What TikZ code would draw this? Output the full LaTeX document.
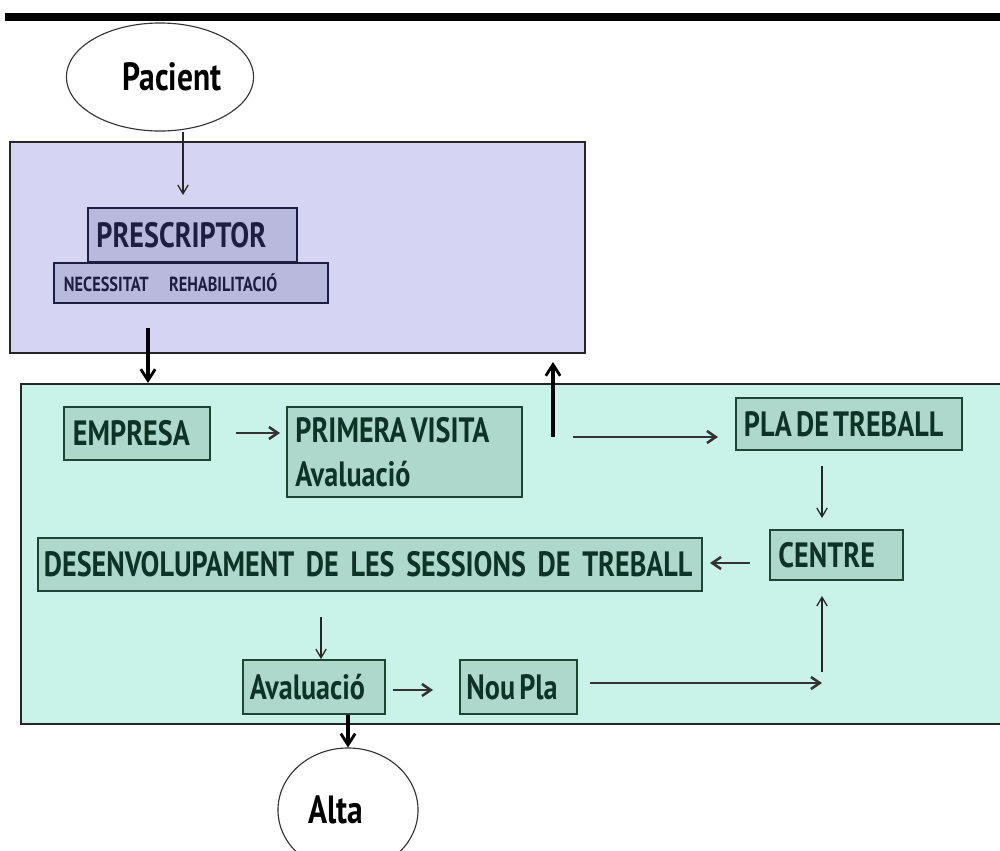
\documentclass[tikz,border=0pt]{standalone}
\usepackage{fontspec}
\setmainfont{PT Sans}[FakeStretch=0.8]
\usetikzlibrary{arrows.meta,shapes.geometric}
\definecolor{lavbg}{HTML}{D5D5F3}
\definecolor{lavbox}{HTML}{B9B9DD}
\definecolor{lavline}{HTML}{1E1E42}
\definecolor{grnbg}{HTML}{C9F3E9}
\definecolor{grnbox}{HTML}{AFD8CC}
\definecolor{grnline}{HTML}{1C4536}
\definecolor{grntext}{HTML}{0D3326}
\newcommand{\tsp}{\hspace{0.12em}}
\tikzset{
  px/.style={x=0.025cm,y=-0.025cm},
  oval/.style={ellipse,draw=black!80,line width=0.8pt,fill=white,font=\fontsize{28}{30}\selectfont\bfseries},
  panel/.style={draw=black!85,line width=1.4pt,inner sep=0pt},
  pbox/.style={draw=lavline,line width=1.4pt,fill=lavbox,text=lavline,align=left,inner sep=0pt,font=\fontsize{25}{28}\selectfont\bfseries},
  gbox/.style={draw=grnline,line width=1.4pt,fill=grnbox,text=grntext,align=left,inner sep=0pt,font=\fontsize{25}{28}\selectfont\bfseries},
  thin/.style={draw=black!85,line width=0.9pt,-{Straight Barb[length=2.2mm,width=2.6mm]}},
  mid/.style={draw=black!80,line width=1.8pt,-{Straight Barb[length=2.2mm,width=3mm]}},
  thick/.style={draw=black,line width=2.4pt,-{Straight Barb[length=2.8mm,width=3.6mm,line width=2pt]}}
}
\begin{document}
\begin{tikzpicture}[px]
\useasboundingbox (0,0) rectangle (1000,850);
% top bar
\fill[black] (5,13) rectangle (1000,21);
% panels
\node[panel,fill=lavbg,minimum width=14.375cm,minimum height=5.275cm] (purple) at (297.5,247.5) {};
\node[panel,fill=grnbg,minimum width=24.6cm,minimum height=8.5cm,anchor=north west] (green) at (20,383) {};
% ovals
\node[oval,minimum width=4.55cm,minimum height=2.7cm] (pacient) at (160,77) {\hspace*{0.6cm}Pacient};
\node[oval,minimum width=3.5cm,minimum height=3.1cm] (alta) at (348,810) {Alta\hspace*{0.6cm}};
% purple boxes
\node[pbox,minimum width=5.225cm,minimum height=1.35cm,text width=4.8cm] (prescriptor) at (192.5,235) {PRESCRIPTOR};
\node[pbox,minimum width=6.85cm,minimum height=1.0cm,text width=6.35cm,font=\fontsize{14.5}{16}\selectfont\bfseries] (necess) at (191,283) {NECESSITAT\quad REHABILITACIÓ};
% green boxes
\node[gbox,minimum width=3.65cm,minimum height=1.325cm,text width=3.2cm] (empresa) at (137,433.5) {EMPRESA};
\node[gbox,minimum width=5.875cm,minimum height=2.25cm,text width=5.45cm,font=\fontsize{25}{31}\selectfont\bfseries] (primera) at (404.5,452) {\mbox{PRIMERA\tsp VISITA}\\Avaluació};
\node[gbox,minimum width=5.65cm,minimum height=1.3cm,text width=5.25cm] (pla) at (849,424) {\mbox{PLA\tsp DE\tsp TREBALL}};
\node[gbox,minimum width=3.325cm,minimum height=1.25cm,text width=2.9cm] (centre) at (836.5,555) {CENTRE};
\node[gbox,minimum width=16.6cm,minimum height=1.325cm,text width=16.3cm] (desenv) at (370,564.5) {DESENVOLUPAMENT DE LES SESSIONS DE TREBALL};
\node[gbox,minimum width=3.55cm,minimum height=1.35cm,text width=3.2cm] (aval) at (314,687) {Avaluació};
\node[gbox,minimum width=2.925cm,minimum height=1.35cm,text width=2.6cm] (noupla) at (518.5,687) {\mbox{Nou\tsp Pla}};
% free ends
\coordinate (c1) at (183,195);
\coordinate (c2a) at (148,328);
\coordinate (c3a) at (553,437);
\coordinate (c3b) at (553,362);
\coordinate (c4a) at (236,433);
\coordinate (c4b) at (280,433);
\coordinate (c5a) at (573,437);
\coordinate (c5b) at (718,437);
\coordinate (c6a) at (822,466);
\coordinate (c6b) at (822,518);
\coordinate (c7a) at (750,563);
\coordinate (c7b) at (710,563);
\coordinate (c8a) at (321,617);
\coordinate (c9a) at (393,690);
\coordinate (c9b) at (433,690);
\coordinate (c10a) at (590,683);
\coordinate (c10b) at (822,683);
\coordinate (c11a) at (822,672);
\coordinate (c11b) at (822,596);
% connectors
\draw[thin] (pacient.south -| c1) -- (c1);
\draw[thick] (c2a) -- (c2a |- green.north);
\draw[thick] (c3a) -- (c3b);
\draw[mid] (c4a) -- (c4b);
\draw[mid] (c5a) -- (c5b);
\draw[thin] (c6a) -- (c6b);
\draw[mid] (c7a) -- (c7b);
\draw[thin] (c8a) -- (c8a |- aval.north);
\draw[mid] (c9a) -- (c9b);
\draw[mid] (c10a) -- (c10b);
\draw[thin] (c11a) -- (c11b);
\draw[thick] (aval.south -| alta) -- (alta.north);
\end{tikzpicture}
\end{document}
